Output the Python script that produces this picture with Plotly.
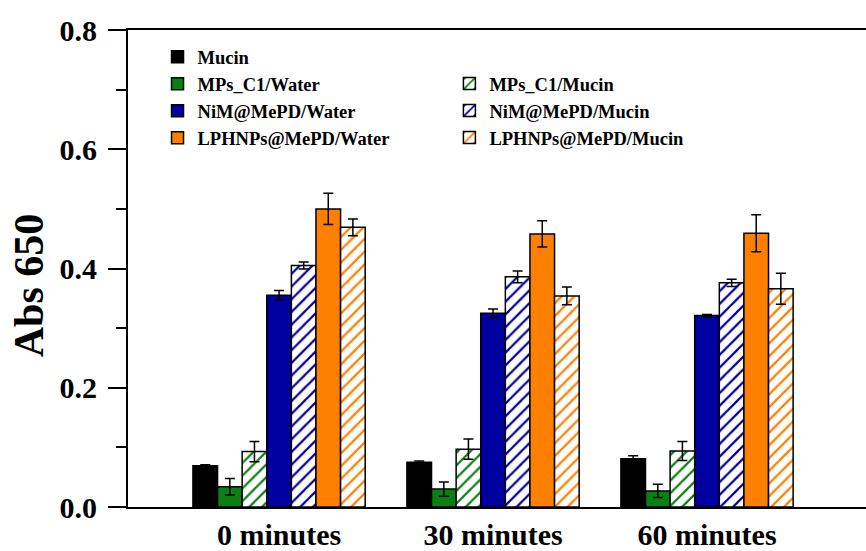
import plotly.graph_objects as go

# Time points on the x axis
time_points = ["0 minutes", "30 minutes", "60 minutes"]

# Absorbance at 650 nm (mean) and error (SD) for each sample
mucin = [0.069, 0.075, 0.081]
mucin_err = [0.002, 0.002, 0.005]

mps_water = [0.034, 0.030, 0.027]
mps_water_err = [0.014, 0.012, 0.011]
mps_mucin = [0.093, 0.097, 0.094]
mps_mucin_err = [0.017, 0.017, 0.016]

nim_water = [0.355, 0.325, 0.321]
nim_water_err = [0.008, 0.007, 0.002]
nim_mucin = [0.405, 0.386, 0.376]
nim_mucin_err = [0.006, 0.010, 0.006]

lph_water = [0.500, 0.458, 0.459]
lph_water_err = [0.026, 0.022, 0.031]
lph_mucin = [0.469, 0.354, 0.366]
lph_mucin_err = [0.014, 0.015, 0.026]

BLACK = "#000000"
GREEN = "#0A7F14"
BLUE = "#0000A0"
ORANGE = "#FF8000"
FONT = "Liberation Serif"

series = [
    ("Mucin", mucin, mucin_err, BLACK, False, "legend"),
    ("MPs_C1/Water", mps_water, mps_water_err, GREEN, False, "legend"),
    ("MPs_C1/Mucin", mps_mucin, mps_mucin_err, GREEN, True, "legend2"),
    ("NiM@MePD/Water", nim_water, nim_water_err, BLUE, False, "legend"),
    ("NiM@MePD/Mucin", nim_mucin, nim_mucin_err, BLUE, True, "legend2"),
    ("LPHNPs@MePD/Water", lph_water, lph_water_err, ORANGE, False, "legend"),
    ("LPHNPs@MePD/Mucin", lph_mucin, lph_mucin_err, ORANGE, True, "legend2"),
]

fig = go.Figure()
for name, vals, errs, color, hatched, leg in series:
    if hatched:
        marker = dict(
            color="white",
            line=dict(color="black", width=1.5),
            pattern=dict(shape="/", fgcolor=color, bgcolor="white",
                         size=9, solidity=0.25, fillmode="replace"),
        )
    else:
        marker = dict(color=color, line=dict(color="black", width=1.5))
    fig.add_trace(go.Bar(
        name=name,
        x=time_points,
        y=vals,
        marker=marker,
        error_y=dict(type="data", array=errs, visible=True,
                     color="black", thickness=1.5, width=5),
        legend=leg,
    ))

legend_font = dict(family=FONT, size=18.5, color="black", weight="bold")

fig.update_layout(
    width=866,
    height=551,
    margin=dict(l=128, r=0, t=30, b=41),
    paper_bgcolor="white",
    plot_bgcolor="white",
    barmode="group",
    bargap=0.195,
    bargroupgap=0,
    font=dict(family=FONT, color="black"),
    legend=dict(
        x=0.04, xanchor="left", y=0.983, yanchor="top",
        font=legend_font, bgcolor="rgba(0,0,0,0)",
        tracegroupgap=0, itemwidth=30,
    ),
    legend2=dict(
        x=0.4355, xanchor="left", y=0.9267, yanchor="top",
        font=legend_font, bgcolor="rgba(0,0,0,0)",
        tracegroupgap=0, itemwidth=30,
    ),
    xaxis=dict(
        type="category",
        range=[-0.706, 2.743],
        showline=True, linecolor="black", linewidth=2,
        mirror=True, ticks="", showgrid=False, zeroline=False,
        tickfont=dict(family=FONT, size=30, color="black", weight="bold"),
    ),
    yaxis=dict(
        range=[0, 0.8],
        tickvals=[0.0, 0.2, 0.4, 0.6, 0.8],
        ticktext=["0.0", "0.2", "0.4", "0.6", "0.8"],
        showline=True, linecolor="black", linewidth=2,
        ticks="outside", ticklen=18, tickwidth=2, tickcolor="black",
        ticklabelstandoff=5,
        minor=dict(tickvals=[0.1, 0.3, 0.5, 0.7], ticks="outside",
                   ticklen=10, tickwidth=2, tickcolor="black"),
        showgrid=False, zeroline=False,
        tickfont=dict(family=FONT, size=30, color="black", weight="bold"),
    ),
    annotations=[
        dict(
            text="Abs 650", textangle=-90,
            xref="paper", yref="paper", x=-0.134, y=0.465,
            xanchor="center", yanchor="middle", showarrow=False,
            font=dict(family=FONT, size=42, color="black", weight="bold"),
        )
    ],
)

fig.write_html("out.html")
